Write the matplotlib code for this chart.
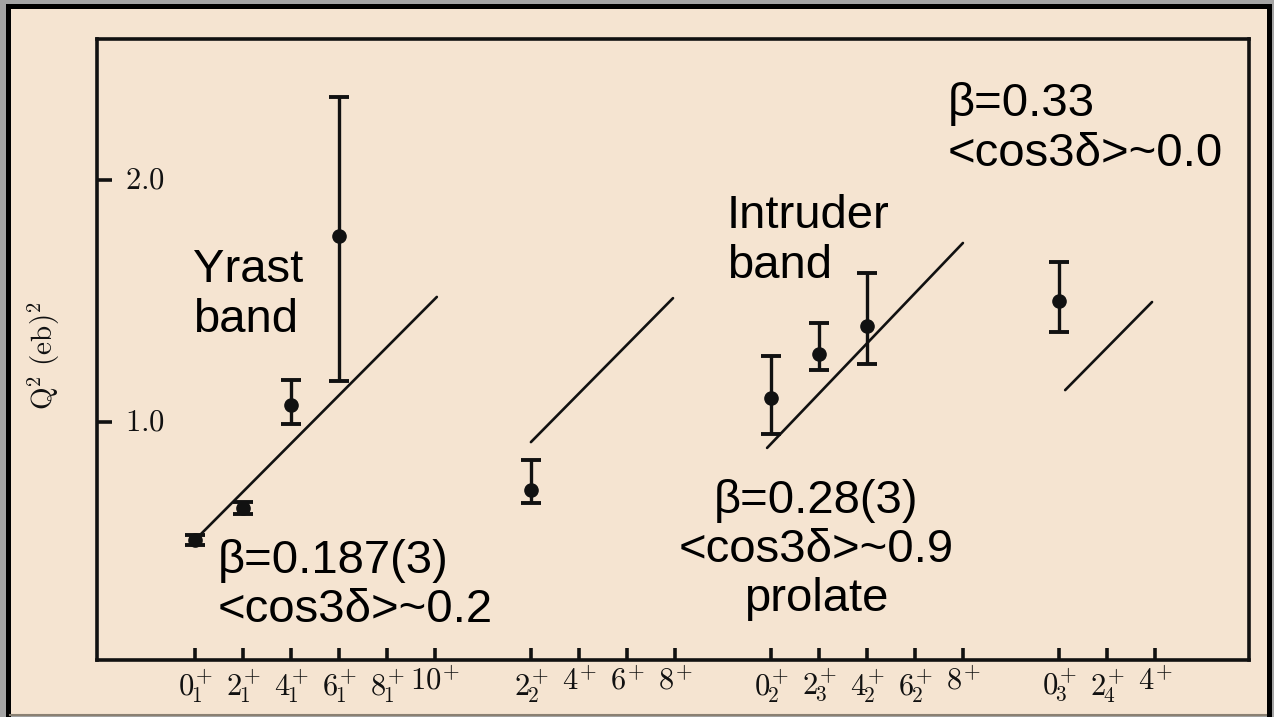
import matplotlib
matplotlib.use("Agg")
import matplotlib.pyplot as plt
from matplotlib.patches import Rectangle
from matplotlib.lines import Line2D
from matplotlib.transforms import blended_transform_factory

# Level labels along the horizontal axis and their slot positions
state_labels = [r'$0_{\!1}^{\!+}$', r'$2_{\!1}^{\!+}$', r'$4_{\!1}^{\!+}$', r'$6_{\!1}^{\!+}$',
                r'$8_{\!1}^{\!+}$', r'$10^{\!+}$',
                r'$2_{\!2}^{\!+}$', r'$4^{\!+}$', r'$6^{\!+}$', r'$8^{\!+}$',
                r'$0_{\!2}^{\!+}$', r'$2_{\!3}^{\!+}$', r'$4_{\!2}^{\!+}$', r'$6_{\!2}^{\!+}$',
                r'$8^{\!+}$',
                r'$0_{\!3}^{\!+}$', r'$2_{\!4}^{\!+}$', r'$4^{\!+}$']
state_pos = [0, 1, 2, 3, 4, 5, 7, 8, 9, 10, 12, 13, 14, 15, 16, 18, 19, 20]

# Measured Q^2 values (eb)^2 with asymmetric uncertainties
meas_pos = [0, 1, 2, 3, 7, 12, 13, 14, 18]
meas_q2 = [0.512, 0.645, 1.07, 1.769, 0.719, 1.099, 1.281, 1.397, 1.50]
meas_err_lo = [0.022, 0.025, 0.08, 0.60, 0.054, 0.149, 0.066, 0.157, 0.128]
meas_err_hi = [0.022, 0.025, 0.104, 0.574, 0.124, 0.174, 0.128, 0.219, 0.161]

# Rotor-model predictions for each band (straight segments)
band_x0 = [0.0, 7.0, 11.92, 18.13]
band_x1 = [5.04, 9.96, 16.0, 19.94]
band_q0 = [0.512, 0.917, 0.893, 1.132]
band_q1 = [1.517, 1.512, 1.74, 1.496]

y_ticks = [1.0, 2.0]
y_tick_labels = [r'$1.0$', r'$2.0$']

plt.rcParams['mathtext.fontset'] = 'cm'

W, H = 1274, 717
fig = plt.figure(figsize=(W / 100, H / 100), dpi=100)
fig.patch.set_facecolor('#a4a4a4')

paper = '#f5e4d1'
fig.add_artist(Rectangle((7 / W, 2 / H), (W - 12) / W, (H - 8) / H,
                         transform=fig.transFigure, facecolor=paper,
                         edgecolor='none', zorder=-5))
# black frame on left, top and right; thin brownish rule at the bottom
fx = [7.5 / W, 7.5 / W, (W - 5.5) / W, (W - 5.5) / W]
fy = [2 / H, (H - 6) / H, (H - 6) / H, 2 / H]
fig.add_artist(Line2D(fx, fy, transform=fig.transFigure, color='black', lw=3.6,
                      solid_joinstyle='miter', zorder=-4))
fig.add_artist(Line2D([10 / W, (W - 8) / W], [2.5 / H, 2.5 / H], transform=fig.transFigure,
                      color='#8a8072', lw=1.5, zorder=-4))

ax = fig.add_axes([97 / W, 57 / H, 1152 / W, 621 / H])
ax.set_facecolor('none')
ax.set_xlim(-2.04, 21.96)
ax.set_ylim(0.0165, 2.583)

for s in ax.spines.values():
    s.set_linewidth(2.6)
    s.set_color('#111111')

ax.set_xticks(state_pos)
ax.set_xticklabels(state_labels, fontsize=22)
ax.tick_params(axis='x', direction='in', length=9, width=2.6, pad=5, colors='#111111')
ax.set_yticks(y_ticks)
ax.set_yticklabels([])
ax.tick_params(axis='y', direction='in', length=11, width=2.6, colors='#111111')

trans = blended_transform_factory(ax.transAxes, ax.transData)
for v, lab in zip(y_ticks, y_tick_labels):
    ax.text(0.024, v, lab, transform=trans, ha='left', va='center',
            fontsize=22, color='#111111')

ax.text(-0.046, 0.49, r'$\mathrm{Q}^2\ (\mathrm{eb})^2$', transform=ax.transAxes,
        rotation=90, ha='center', va='center', fontsize=21, color='#111111')

# Rotor-model lines
for x0, x1, q0, q1 in zip(band_x0, band_x1, band_q0, band_q1):
    ax.plot([x0, x1], [q0, q1], color='#111111', lw=1.9, solid_capstyle='round')

# Data points with error bars
ax.errorbar(meas_pos, meas_q2, yerr=[meas_err_lo, meas_err_hi], fmt='o',
            color='#111111', ms=9.5, elinewidth=2.4, capsize=7, capthick=2.8, zorder=5)

txt = dict(fontsize=34, family='Liberation Sans', color='black', linespacing=1.15)
ax.text(-0.04, 1.525, 'Yrast\nband', ha='left', va='center', **txt)
ax.text(0.48, 0.326, 'β=0.187(3)\n<cos3δ>~0.2', ha='left', va='center', **txt)
ax.text(11.08, 1.748, 'Intruder\nband', ha='left', va='center', **txt)
ax.text(12.94, 0.471, 'β=0.28(3)\n<cos3δ>~0.9\nprolate', ha='center', va='center',
        multialignment='center', **txt)
ax.text(15.69, 2.211, 'β=0.33\n<cos3δ>~0.0', ha='left', va='center', **txt)

fig.savefig('out.png', dpi=100, facecolor=fig.get_facecolor())
